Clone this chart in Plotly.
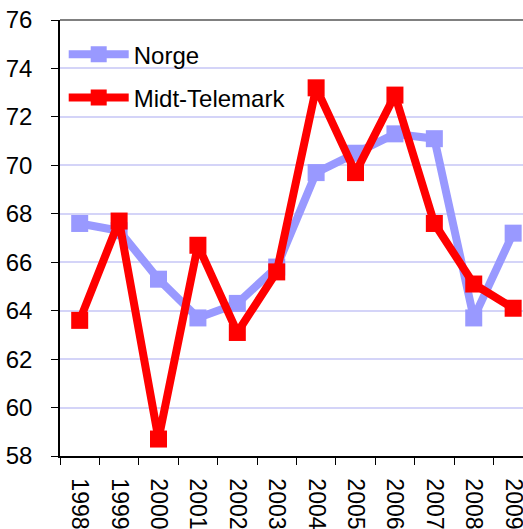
import plotly.graph_objects as go

years = ["1998", "1999", "2000", "2001", "2002", "2003", "2004", "2005", "2006", "2007", "2008", "2009"]
norge = [67.6, 67.3, 65.3, 63.7, 64.3, 65.8, 69.7, 70.5, 71.3, 71.1, 63.7, 67.2]
midt_telemark = [63.6, 67.7, 58.7, 66.7, 63.1, 65.6, 73.2, 69.7, 72.9, 67.6, 65.1, 64.1]
y_ticks = [58, 60, 62, 64, 66, 68, 70, 72, 74, 76]

FONT = "Liberation Sans, Arial, sans-serif"

fig = go.Figure()
fig.add_trace(go.Scatter(
    x=years, y=norge, name="Norge", mode="lines+markers",
    line=dict(color="#9999FF", width=8),
    marker=dict(symbol="square", size=17, color="#9999FF"),
    legendgroup="a",
))
fig.add_trace(go.Scatter(
    x=years, y=midt_telemark, name="Midt-Telemark", mode="lines+markers",
    line=dict(color="#FF0000", width=8),
    marker=dict(symbol="square", size=17, color="#FF0000"),
    legendgroup="b",
))

fig.update_layout(
    width=523, height=529,
    margin=dict(l=60, r=0, t=20, b=73),
    paper_bgcolor="white", plot_bgcolor="white",
    font=dict(family=FONT, size=24, color="black"),
    showlegend=True,
    legend=dict(
        x=0.008, y=0.972, xanchor="left", yanchor="top",
        font=dict(family=FONT, size=24, color="black"),
        bgcolor="rgba(0,0,0,0)", itemwidth=60,
        traceorder="grouped", tracegroupgap=9,
    ),
    xaxis=dict(
        type="category", range=[-0.5, 11.25], automargin=False,
        tickangle=90, tickson="boundaries",
        ticks="outside", ticklen=7, tickcolor="black",
        showline=True, linecolor="black", linewidth=1.5,
        showgrid=False, zeroline=False,
        tickfont=dict(family=FONT, size=23),
        ticklabelstandoff=16,
    ),
    yaxis=dict(
        range=[58, 76], tickvals=y_ticks, automargin=False,
        ticks="outside", ticklen=7, tickcolor="black",
        showline=True, linecolor="black", linewidth=1.5,
        showgrid=True, gridcolor="#D4D4F8", gridwidth=1.5,
        zeroline=False,
        tickfont=dict(family=FONT, size=24),
        ticklabelstandoff=14,
    ),
    shapes=[dict(type="line", xref="paper", yref="paper", x0=0, x1=1, y0=1, y1=1,
                 line=dict(color="#808080", width=2))],
)

fig.write_html(
    "out.html",
    config={"displayModeBar": False},
    post_script="document.body.style.margin='0';document.body.style.overflow='hidden';",
)
